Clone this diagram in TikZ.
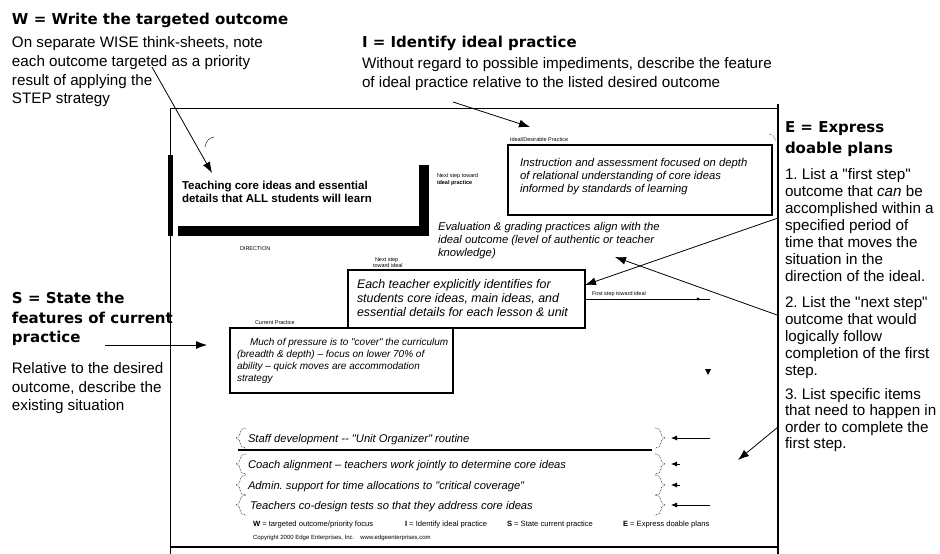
\documentclass[tikz,border=0pt]{standalone}
\usepackage{fontspec}
\setmainfont{Liberation Sans}
\newfontfamily\headfont{DejaVu Sans}
\usetikzlibrary{arrows.meta}
\newcommand{\qq}{\textquotedbl}
\begin{document}
\frenchspacing
\begin{tikzpicture}[x=1pt,y=-1pt,
  every node/.style={inner sep=0pt, outer sep=0pt},
  head/.style={font=\headfont\bfseries\fontsize{15}{17}\selectfont, anchor=base west},
  body/.style={font=\fontsize{15.2}{18}\selectfont, anchor=base west},
  teach/.style={font=\bfseries\fontsize{11.5}{13}\selectfont, anchor=base west},
  boxit/.style={font=\itshape\fontsize{11.3}{13}\selectfont, anchor=base west},
  midit/.style={font=\itshape\fontsize{12.4}{14}\selectfont, anchor=base west},
  curit/.style={font=\itshape\fontsize{10}{12}\selectfont, anchor=base west},
  rowit/.style={font=\itshape\fontsize{11.2}{13}\selectfont, anchor=base west},
  lbl/.style={font=\fontsize{5.5}{6.5}\selectfont, anchor=base west},
  sumt/.style={font=\fontsize{7.6}{9}\selectfont, anchor=base west},
  ptr/.style={-{Latex[length=11pt,width=8pt]}, line width=0.8pt},
  sptr/.style={-{Latex[length=6pt,width=5pt]}, line width=0.8pt},
  thickbox/.style={draw, line width=2.2pt, fill=white, anchor=north west},
  thinbox/.style={draw, line width=1.2pt, fill=white, anchor=north west},
  brk/.style={densely dotted, line width=0.6pt},
]
\useasboundingbox (0,0) rectangle (940,554);
\fill[white] (0,0) rectangle (940,554);

% frame
\draw[line width=0.8pt] (170,554) -- (170,108) -- (778,108);
\draw[line width=1.5pt] (778,104) -- (778,554);
\draw[line width=1.5pt] (170,547) -- (778,547);
\fill (168,155) rectangle (172.5,236);

% W
\node[head] (Wh) at (12,24.5) {W = Write the targeted outcome};
\node[body] (W1) at (12,47) {On separate WISE think-sheets, note};
\node[body] (W2) at (12,66) {each outcome targeted as a priority};
\node[body] (W3) at (12,85) {result of applying the};
\node[body] (W4) at (12,103) {STEP strategy};

% I
\node[head] (Ih) at (362,47.5) {I = Identify ideal practice};
\node[body] (I1) at (362,68) {Without regard to possible impediments, describe the feature};
\node[body] (I2) at (362,87) {of ideal practice relative to the listed desired outcome};

% E
\node[head] (Eh1) at (785,132.5) {E = Express};
\node[head] (Eh2) at (785,153.5) {doable plans};
\node[body] (E1) at (785,179) {1. List a \qq first step\qq};
\node[body] (E2) at (785,196) {outcome that \textit{can} be};
\node[body] (E3) at (785,213) {accomplished within a};
\node[body] (E4) at (785,230) {specified period of};
\node[body] (E5) at (785,247) {time that moves the};
\node[body] (E6) at (785,264) {situation in the};
\node[body] (E7) at (785,281) {direction of the ideal.};
\node[body] (E8) at (785,307) {2. List the \qq next step\qq};
\node[body] (E9) at (785,324) {outcome that would};
\node[body] (E10) at (785,341) {logically follow};
\node[body] (E11) at (785,358) {completion of the first};
\node[body] (E12) at (785,375) {step.};
\node[body] (E13) at (785,399) {3. List specific items};
\node[body] (E14) at (785,415.5) {that need to happen in};
\node[body] (E15) at (785,432) {order to complete the};
\node[body] (E16) at (785,448.5) {first step.};

% S
\node[head] (Sh1) at (12,303.5) {S = State the};
\node[head] (Sh2) at (12,323.5) {features of current};
\node[head] (Sh3) at (12,342.5) {practice};
\node[body] (S1) at (12,373) {Relative to the desired};
\node[body] (S2) at (12,392) {outcome, describe the};
\node[body] (S3) at (12,410) {existing situation};

% targeted outcome (black L)
\fill (178,226) rectangle (429,236);
\fill (419,165) rectangle (429,236);
\node[teach] (T1) at (182,189) {Teaching core ideas and essential};
\node[teach] (T2) at (182,202) {details that ALL students will learn};
\node[lbl] (dir) at (240,250) {DIRECTION};
\draw[line width=0.4pt] (205,147) .. controls (206,141) and (209,138) .. (214,137);

% ideal practice box
\node[thickbox, minimum width=264pt, minimum height=70pt] (ideal) at (508,145) {};
\node[lbl] (idl) at (510,141.5) {Ideal/Desirable Practice};
\node[boxit] (id1) at (520,166) {Instruction and assessment focused on depth};
\node[boxit] (id2) at (520,179) {of relational understanding of core ideas};
\node[boxit] (id3) at (520,192) {informed by standards of learning};
\draw[densely dotted, line width=0.5pt] (769,134) .. controls (773,135) .. (776,141);
\node[lbl] (ns1) at (437,177.5) {Next step toward};
\node[lbl, font=\bfseries\fontsize{5.5}{6.5}\selectfont] (ns2) at (437,184.5) {ideal practice};

% next step (evaluation)
\node[boxit] (ev1) at (438,230) {Evaluation \& grading practices align with the};
\node[boxit] (ev2) at (438,243) {ideal outcome (level of authentic or teacher};
\node[boxit] (ev3) at (438,256) {knowledge)};
\node[lbl] (nx1) at (375,261) {Next step};
\node[lbl] (nx2) at (373,267.5) {toward ideal};

% first step box
\node[thinbox, minimum width=237pt, minimum height=58pt] (mid) at (348,270) {};
\node[midit] (m1) at (357,288) {Each teacher explicitly identifies for};
\node[midit] (m2) at (357,302) {students core ideas, main ideas, and};
\node[midit] (m3) at (357,316) {essential details for each lesson \& unit};
\node[lbl] (fsl) at (592,295.5) {First step toward ideal};
\coordinate (fsE) at (710,299);
\draw[line width=0.8pt] (mid.east) -- (fsE);
\fill (698,299) circle (1.6pt);

% current practice box
\node[lbl] (cpl) at (255,324.5) {Current Practice};
\node[thickbox, minimum width=223pt, minimum height=65pt] (cur) at (230,328) {};
\node[curit] (c1) at (250,345) {Much of pressure is to \qq cover\qq\ the curriculum};
\node[curit] (c2) at (237,357) {(breadth \& depth) -- focus on lower 70\% of};
\node[curit] (c3) at (237,369) {ability -- quick moves are accommodation};
\node[curit] (c4) at (237,381) {strategy};

\fill (705,369) -- (711,369) -- (708,375) -- cycle;

% action items
\node[rowit] (r1) at (248,442) {Staff development -{}- \qq Unit Organizer\qq\ routine};
\draw[line width=1.6pt] (238,450) -- (652,450);
\node[rowit] (r2) at (248,468) {Coach alignment -- teachers work jointly to determine core ideas};
\node[rowit] (r3) at (248,489) {Admin. support for time allocations to \qq critical coverage\qq};
\node[rowit] (r4) at (250,509) {Teachers co-design tests so that they address core ideas};
\foreach \yc in {438,464,485,505} {
  \draw[brk] (246,{\yc-10}) .. controls (237,{\yc-9}) and (243,{\yc-2}) .. (236,\yc)
             .. controls (243,{\yc+2}) and (237,{\yc+9}) .. (246,{\yc+10});
  \draw[brk] (655,{\yc-10}) .. controls (664,{\yc-9}) and (658,{\yc-2}) .. (665,\yc)
             .. controls (658,{\yc+2}) and (664,{\yc+9}) .. (655,{\yc+10});
}
\coordinate (a1s) at (710,438); \coordinate (a1e) at (671,438);
\coordinate (a2s) at (680,464); \coordinate (a2e) at (671,464);
\coordinate (a3s) at (680,485); \coordinate (a3e) at (671,485);
\coordinate (a4s) at (710,505); \coordinate (a4e) at (671,505);
\draw[sptr] (a1s) -- (a1e);
\draw[sptr] (a2s) -- (a2e);
\draw[sptr] (a3s) -- (a3e);
\draw[sptr] (a4s) -- (a4e);

% summary + copyright
\node[sumt] (s1) at (253,526) {\textbf{W} = targeted outcome/priority focus};
\node[sumt] (s2) at (405,526) {\textbf{I} = Identify ideal practice};
\node[sumt] (s3) at (507,526) {\textbf{S} = State current practice};
\node[sumt] (s4) at (623,526) {\textbf{E} = Express doable plans};
\node[lbl, font=\fontsize{6}{7}\selectfont] (copy) at (253,539.5) {Copyright 2000 Edge Enterprises, Inc.\quad www.edgeenterprises.com};

% main arrows
\coordinate (wS) at (152,67); \coordinate (wT) at (212,173);
\draw[ptr] (wS) -- (wT);
\coordinate (iS) at (453,102); \coordinate (iT) at (530,127);
\draw[ptr] (iS) -- (iT);
\coordinate (sS) at (105,345); \coordinate (sT) at (207,345);
\draw[ptr] (sS) -- (sT);
\coordinate (aS) at (778,218); \coordinate (aT) at (585,285);
\draw[ptr] (aS) -- (aT);
\coordinate (bS) at (777,315); \coordinate (bT) at (615,257);
\draw[ptr] (bS) -- (bT);
\coordinate (cS) at (778,427); \coordinate (cT) at (738,460);
\draw[ptr] (cS) -- (cT);
\end{tikzpicture}
\end{document}
